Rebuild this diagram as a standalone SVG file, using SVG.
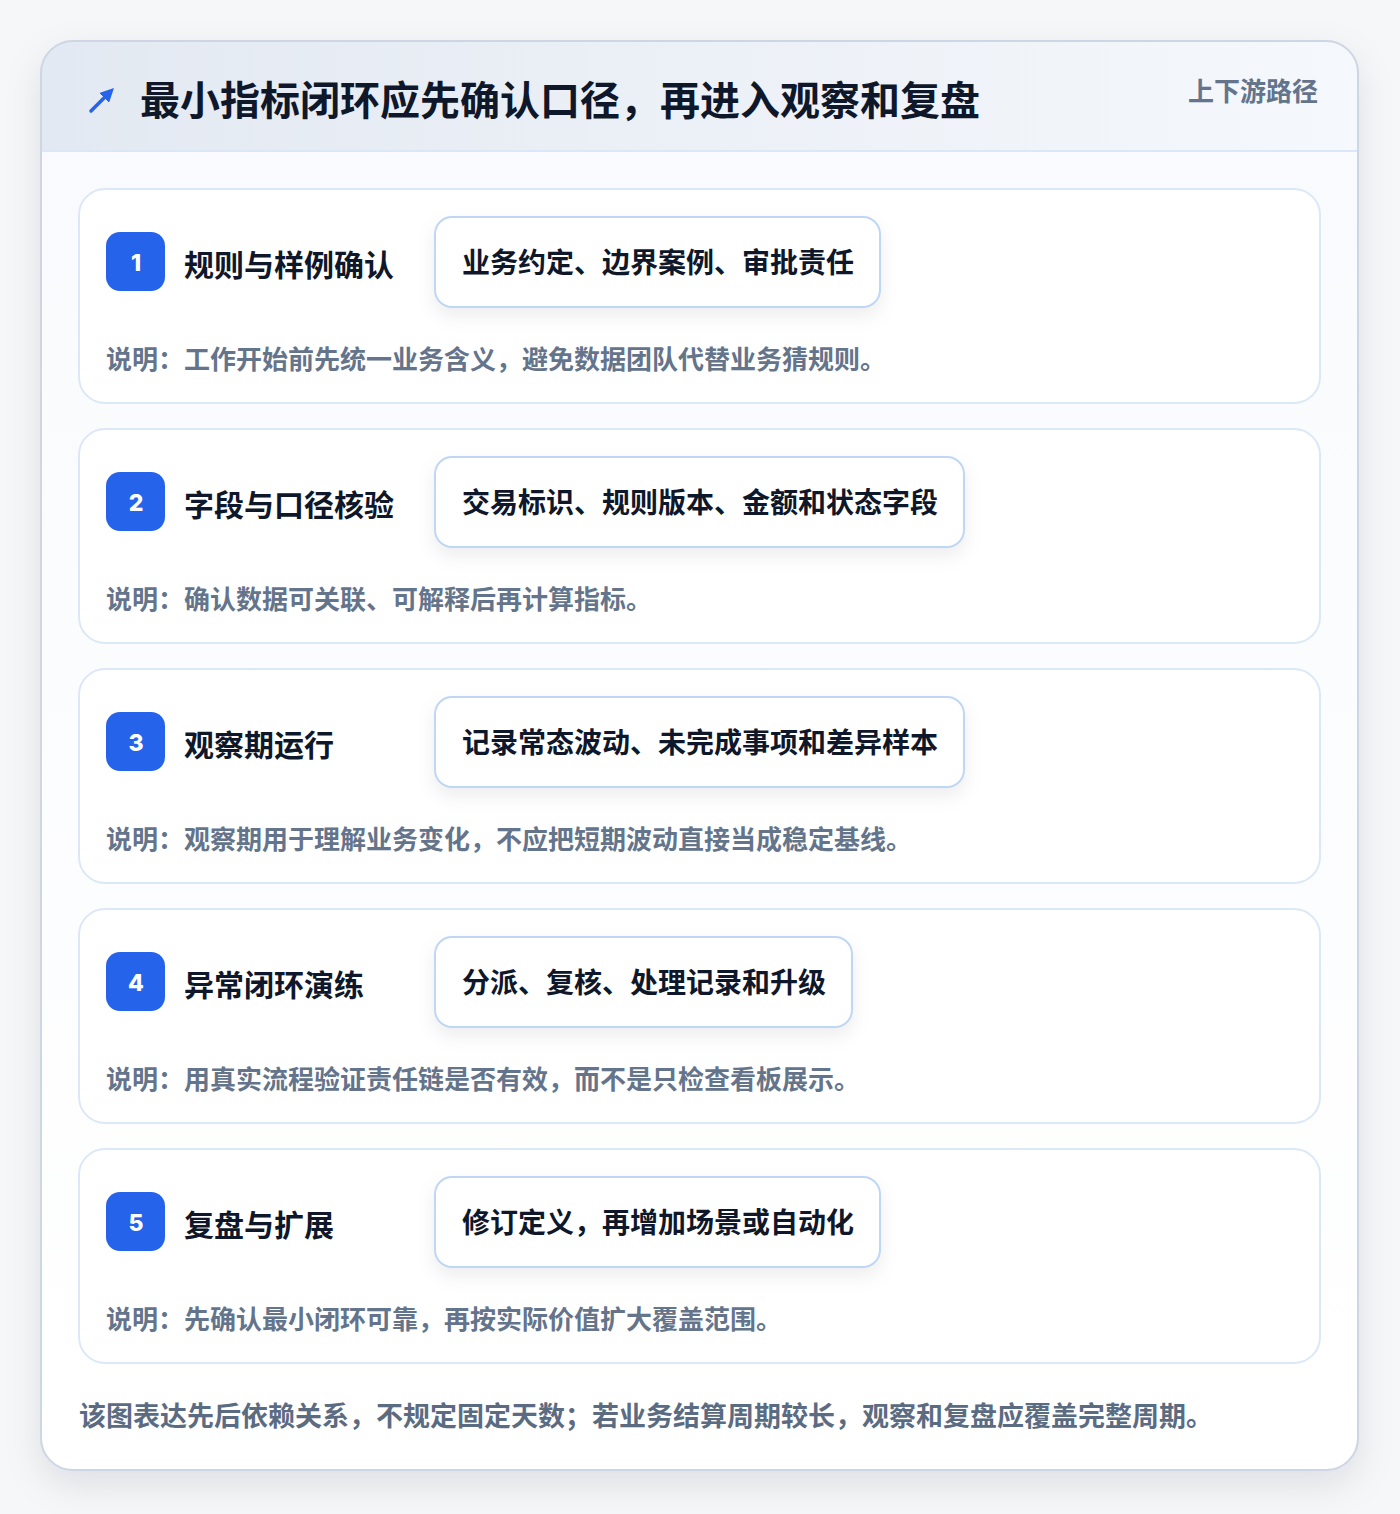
<svg xmlns="http://www.w3.org/2000/svg" width="1400" height="1514" viewBox="0 0 1400 1514">
<defs>
<linearGradient id="hdr" x1="0" y1="0" x2="1" y2="0">
<stop offset="0" stop-color="#e3e9f2"/>
<stop offset="1" stop-color="#f5f8fc"/>
</linearGradient>
<linearGradient id="body" x1="0" y1="0" x2="0" y2="1">
<stop offset="0" stop-color="#f8fafd"/>
<stop offset="1" stop-color="#ffffff"/>
</linearGradient>
<filter id="outerShadow" x="-10%" y="-10%" width="120%" height="120%">
<feDropShadow dx="0" dy="14" stdDeviation="18" flood-color="#0f172a" flood-opacity="0.10"/>
</filter>
<filter id="pillShadow" x="-10%" y="-30%" width="120%" height="170%">
<feDropShadow dx="0" dy="8" stdDeviation="9" flood-color="#0f172a" flood-opacity="0.07"/>
</filter>
<clipPath id="cardClip"><rect x="41" y="41" width="1317" height="1429" rx="32"/></clipPath>
<marker id="ah" viewBox="0 0 10 10" refX="6" refY="5" markerWidth="4" markerHeight="4" orient="auto">
<path d="M0,0 L10,5 L0,10 z" fill="#2563eb"/>
</marker>
</defs>
<style>
.cjk{font-family:"Noto Sans CJK SC","Noto Sans",sans-serif;font-weight:700}
.title{font-size:40px;fill:#0f172a}
.tag{font-size:26px;fill:#64748b}
.card{fill:#ffffff;stroke:#dce8f7;stroke-width:2}
.badge{fill:#2563eb}
.num{font-family:"Inter","Noto Sans",sans-serif;font-weight:800;font-size:23px;fill:#ffffff}
.stitle{font-size:30px;fill:#0f172a}
.pill{fill:#ffffff;stroke:#bfd6f4;stroke-width:2}
.ptext{font-size:28px;fill:#0f172a}
.desc{font-size:26px;fill:#64748b}
.foot{font-size:27px;fill:#5b6b82}
</style>
<rect x="0" y="0" width="1400" height="1514" fill="#f6f7f9"/>
<g id="frame">
<rect x="41" y="41" width="1317" height="1429" rx="32" fill="#ffffff" filter="url(#outerShadow)"/>
<g clip-path="url(#cardClip)">
<rect x="41" y="41" width="1317" height="1429" fill="url(#body)"/>
<rect x="41" y="41" width="1317" height="110" fill="url(#hdr)"/>
<line x1="41" y1="151" x2="1358" y2="151" stroke="#dbe7f6" stroke-width="2"/>
</g>
<rect x="41" y="41" width="1317" height="1429" rx="32" fill="none" stroke="#cdd6e4" stroke-width="2"/>
</g>
<g id="header">
<line x1="91" y1="111" x2="110" y2="92" stroke="#2563eb" stroke-width="3.5" stroke-linecap="round" marker-end="url(#ah)"/>
<text x="140" y="98" class="cjk title" dominant-baseline="central">最小指标闭环应先确认口径，再进入观察和复盘</text>
<text x="1318" y="89" class="cjk tag" text-anchor="end" dominant-baseline="central">上下游路径</text>
</g>
<g id="connectors"></g>
<g id="step1">
<rect x="79" y="189" width="1241" height="214" rx="26" class="card"/>
<rect x="106" y="232" width="59" height="59" rx="14" class="badge"/>
<text x="136" y="263" class="num" text-anchor="middle" dominant-baseline="central">1</text>
<text x="184" y="263" class="cjk stitle" dominant-baseline="central">规则与样例确认</text>
<rect x="435" y="217" width="445" height="90" rx="17" class="pill" filter="url(#pillShadow)"/>
<text x="462" y="261" class="cjk ptext" dominant-baseline="central">业务约定、边界案例、审批责任</text>
<text x="106" y="357" class="cjk desc" dominant-baseline="central">说明：工作开始前先统一业务含义，避免数据团队代替业务猜规则。</text>
</g>
<g id="step2">
<rect x="79" y="429" width="1241" height="214" rx="26" class="card"/>
<rect x="106" y="472" width="59" height="59" rx="14" class="badge"/>
<text x="136" y="503" class="num" text-anchor="middle" dominant-baseline="central">2</text>
<text x="184" y="503" class="cjk stitle" dominant-baseline="central">字段与口径核验</text>
<rect x="435" y="457" width="529" height="90" rx="17" class="pill" filter="url(#pillShadow)"/>
<text x="462" y="501" class="cjk ptext" dominant-baseline="central">交易标识、规则版本、金额和状态字段</text>
<text x="106" y="597" class="cjk desc" dominant-baseline="central">说明：确认数据可关联、可解释后再计算指标。</text>
</g>
<g id="step3">
<rect x="79" y="669" width="1241" height="214" rx="26" class="card"/>
<rect x="106" y="712" width="59" height="59" rx="14" class="badge"/>
<text x="136" y="743" class="num" text-anchor="middle" dominant-baseline="central">3</text>
<text x="184" y="743" class="cjk stitle" dominant-baseline="central">观察期运行</text>
<rect x="435" y="697" width="529" height="90" rx="17" class="pill" filter="url(#pillShadow)"/>
<text x="462" y="741" class="cjk ptext" dominant-baseline="central">记录常态波动、未完成事项和差异样本</text>
<text x="106" y="837" class="cjk desc" dominant-baseline="central">说明：观察期用于理解业务变化，不应把短期波动直接当成稳定基线。</text>
</g>
<g id="step4">
<rect x="79" y="909" width="1241" height="214" rx="26" class="card"/>
<rect x="106" y="952" width="59" height="59" rx="14" class="badge"/>
<text x="136" y="983" class="num" text-anchor="middle" dominant-baseline="central">4</text>
<text x="184" y="983" class="cjk stitle" dominant-baseline="central">异常闭环演练</text>
<rect x="435" y="937" width="417" height="90" rx="17" class="pill" filter="url(#pillShadow)"/>
<text x="462" y="981" class="cjk ptext" dominant-baseline="central">分派、复核、处理记录和升级</text>
<text x="106" y="1077" class="cjk desc" dominant-baseline="central">说明：用真实流程验证责任链是否有效，而不是只检查看板展示。</text>
</g>
<g id="step5">
<rect x="79" y="1149" width="1241" height="214" rx="26" class="card"/>
<rect x="106" y="1192" width="59" height="59" rx="14" class="badge"/>
<text x="136" y="1223" class="num" text-anchor="middle" dominant-baseline="central">5</text>
<text x="184" y="1223" class="cjk stitle" dominant-baseline="central">复盘与扩展</text>
<rect x="435" y="1177" width="445" height="90" rx="17" class="pill" filter="url(#pillShadow)"/>
<text x="462" y="1221" class="cjk ptext" dominant-baseline="central">修订定义，再增加场景或自动化</text>
<text x="106" y="1317" class="cjk desc" dominant-baseline="central">说明：先确认最小闭环可靠，再按实际价值扩大覆盖范围。</text>
</g>
<g id="footer">
<text x="79" y="1414" class="cjk foot" dominant-baseline="central">该图表达先后依赖关系，不规定固定天数；若业务结算周期较长，观察和复盘应覆盖完整周期。</text>
</g>
</svg>
